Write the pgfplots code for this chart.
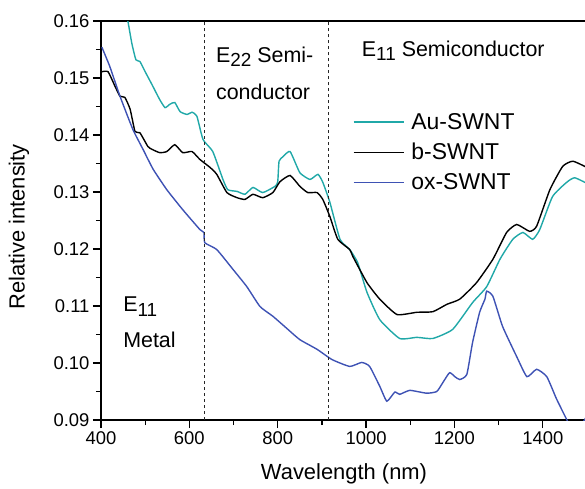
\documentclass[border=0pt]{standalone}
\usepackage{pgfplots}
\pgfplotsset{compat=1.18}
\usepackage{fontspec}
\setmainfont{Liberation Sans}
\definecolor{auc}{RGB}{32,168,168}
\definecolor{oxc}{RGB}{62,82,180}
\newcommand{\sub}[1]{\raisebox{-0.38ex}{\fontsize{19}{19}\selectfont #1}}
\begin{document}
\begin{tikzpicture}
\useasboundingbox (-101bp,-69bp) rectangle (484bp,420bp);
\begin{axis}[
  scale only axis,
  width=486bp, height=399bp,
  xmin=400, xmax=1500, ymin=0.09, ymax=0.16,
  xtick={400,600,...,1400},
  minor xtick={500,700,...,1500},
  ytick={0.09,0.10,...,0.161},
  minor ytick={0.095,0.105,...,0.156},
  tick align=outside,
  xtick pos=bottom, ytick pos=left,
  major tick length=8bp, minor tick length=5bp,
  every tick/.style={black, line width=1.2bp},
  axis line style={line width=1.4bp},
  /pgf/number format/assume math mode=true,
  /pgf/number format/1000 sep={},
  yticklabel style={/pgf/number format/.cd, fixed, fixed zerofill, precision=2},
  ticklabel style={font=\fontsize{18.5}{20}\selectfont},
  xlabel={Wavelength (nm)},
  ylabel={Relative intensity},
  label style={font=\fontsize{22}{24}\selectfont},
  xlabel style={at={(axis description cs:0.5,-0.135)}, anchor=center},
  ylabel style={at={(axis description cs:-0.169,0.484)}, anchor=center},
  legend style={at={(axis description cs:0.512,0.779)}, anchor=north west,
    draw=none, fill=none, font=\fontsize{23}{25}\selectfont, row sep=8.5bp},
  legend cell align=left,
  legend image code/.code={\draw[#1, line width=1.4bp] (0bp,0bp) -- (50bp,0bp); \path (55bp,0bp);},
  every axis plot/.append style={line width=1.4bp},
]
\addplot[auc, smooth, tension=0.3] coordinates {
(455,0.1620) (461,0.1599) (470,0.1560) (479,0.1532) (488,0.1529) (500,0.1511) (515,0.1489) (533,0.1462) (545,0.1448) (556,0.1454) (567,0.1457) (579,0.1441) (595,0.1436) (606,0.1440) (617,0.1433) (631,0.1392) (653,0.1371) (676,0.1322) (687,0.1304) (708,0.1301) (726,0.1296) (744,0.1308) (766,0.1299) (794,0.1310) (800,0.1318) (803,0.1354) (812,0.1362) (828,0.1371) (850,0.1334) (873,0.1322) (891,0.1331) (902,0.1317) (918,0.1282) (941,0.1217) (963,0.1199) (981,0.1176) (1002,0.1124) (1031,0.1076) (1076,0.1043) (1115,0.1045) (1151,0.1043) (1196,0.1059) (1241,0.1106) (1273,0.1134) (1303,0.1182) (1332,0.1217) (1355,0.1229) (1377,0.1217) (1393,0.1234) (1422,0.1292) (1454,0.1317) (1472,0.1325) (1500,0.1315)
};
\addlegendentry{Au-SWNT}
\addplot[black, smooth, tension=0.3] coordinates {
(402,0.1511) (416,0.1511) (432,0.1485) (443,0.1468) (454,0.1466) (466,0.1445) (477,0.1406) (488,0.1404) (506,0.1380) (515,0.1375) (533,0.1369) (549,0.1371) (567,0.1383) (585,0.1369) (606,0.1371) (624,0.1357) (647,0.1343) (662,0.1331) (685,0.1299) (708,0.1290) (726,0.1287) (744,0.1296) (766,0.1290) (789,0.1299) (805,0.1318) (828,0.1329) (850,0.1310) (868,0.1299) (889,0.1299) (902,0.1287) (918,0.1257) (936,0.1217) (963,0.1199) (970,0.1187) (1002,0.1141) (1031,0.1112) (1070,0.1085) (1115,0.1089) (1151,0.1090) (1183,0.1103) (1212,0.1112) (1250,0.1141) (1287,0.1182) (1318,0.1229) (1341,0.1243) (1370,0.1231) (1386,0.1240) (1416,0.1304) (1445,0.1345) (1468,0.1354) (1500,0.1343)
};
\addlegendentry{b-SWNT}
\addplot[oxc, smooth, tension=0.3] coordinates {
(402,0.1554) (420,0.1520) (443,0.1468) (472,0.1410) (495,0.1375) (518,0.1340) (549,0.1304) (585,0.1269) (624,0.1234) (633,0.1229) (635,0.1211) (662,0.1199) (699,0.1164) (730,0.1134) (760,0.1099) (789,0.1082) (823,0.1059) (850,0.1041) (889,0.1024) (923,0.1006) (963,0.0994) (990,0.1001) (1008,0.0994) (1031,0.0959) (1047,0.0933) (1065,0.0949) (1076,0.0945) (1099,0.0952) (1137,0.0947) (1160,0.0950) (1174,0.0966) (1189,0.0983) (1201,0.0976) (1212,0.0971) (1228,0.0980) (1241,0.1036) (1257,0.1089) (1269,0.1112) (1273,0.1126) (1287,0.1117) (1309,0.1064) (1341,0.1011) (1364,0.0976) (1386,0.0989) (1409,0.0976) (1431,0.0937) (1454,0.0901) (1468,0.0880) (1490,0.0895) (1500,0.0908)
};
\addlegendentry{ox-SWNT}
\addplot[black!85, dashed, line width=0.9bp, forget plot] coordinates {(635,0.09) (635,0.16)};
\addplot[black!85, dashed, line width=0.9bp, forget plot] coordinates {(915,0.09) (915,0.16)};
\node[anchor=base west, inner sep=0pt, font=\fontsize{21.5}{24}\selectfont] at (axis cs:660,0.1527) {E\sub{22} Semi-};
\node[anchor=base west, inner sep=0pt, font=\fontsize{21.5}{24}\selectfont] at (axis cs:660,0.1462) {conductor};
\node[anchor=base west, inner sep=0pt, font=\fontsize{21.5}{24}\selectfont] at (axis cs:990,0.1538) {E\sub{11} Semiconductor};
\node[anchor=base west, inner sep=0pt, font=\fontsize{21.5}{24}\selectfont] at (axis cs:450,0.1090) {E\sub{11}};
\node[anchor=base west, inner sep=0pt, font=\fontsize{21.5}{24}\selectfont] at (axis cs:450,0.1027) {Metal};
\end{axis}
\end{tikzpicture}
\end{document}
